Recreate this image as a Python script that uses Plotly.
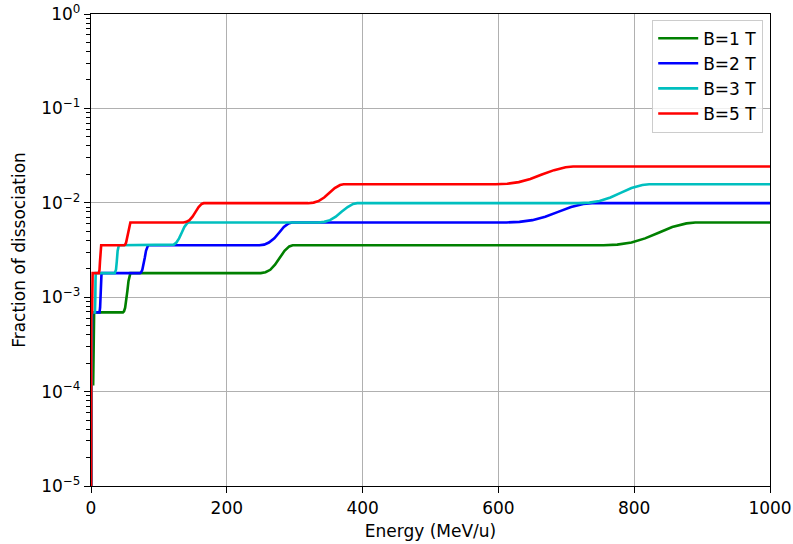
import plotly.graph_objects as go

# Energy (MeV/u) and fraction of dissociation
green_E = [0, 0.3, 3.2, 4.6,
           47, 48.65, 50.3, 51.95, 53.6, 55.25, 56.9, 58,
           250, 257, 264, 271, 278, 285, 292, 297,
           755, 775, 796, 816, 836, 856, 877, 890,
           1000]
green_F = [1e-7, 1.2e-4, 1.2e-4, 6.9e-4,
           6.90e-4, 7.10e-4, 7.74e-4, 9.20e-4, 1.169e-3, 1.486e-3, 1.73e-3, 1.80e-3,
           1.80e-3, 1.837e-3, 1.950e-3, 2.208e-3, 2.612e-3, 3.097e-3, 3.451e-3, 3.55e-3,
           3.55e-3, 3.606e-3, 3.793e-3, 4.198e-3, 4.819e-3, 5.546e-3, 6.053e-3, 6.19e-3,
           6.19e-3]

blue_E = [0, 0.3, 0.9, 1.6,
          12.5, 13.4, 14.0, 14.6, 15.5,
          72, 73.8, 75.6, 77.4, 79.2, 81, 82.8, 84,
          248, 255, 262, 270, 277, 284, 291, 296,
          612, 631, 650, 669, 688, 707, 725, 738,
          1000]
blue_F = [1e-7, 1.2e-4, 1.2e-4, 6.9e-4,
          6.9e-4, 7.74e-4, 1.033e-3, 1.486e-3, 1.80e-3,
          1.80e-3, 1.837e-3, 1.950e-3, 2.208e-3, 2.612e-3, 3.097e-3, 3.451e-3, 3.55e-3,
          3.55e-3, 3.606e-3, 3.793e-3, 4.198e-3, 4.819e-3, 5.546e-3, 6.053e-3, 6.19e-3,
          6.19e-3, 6.28e-3, 6.55e-3, 7.13e-3, 8.02e-3, 9.02e-3, 9.73e-3, 9.91e-3,
          9.91e-3]

cyan_E = [0, 0.2, 0.5, 0.8,
          5.8, 6.16, 6.4, 6.64, 7.0,
          35, 36.8, 38, 39.2, 41,
          118, 121.9, 125.8, 129.7, 133.6, 137.5, 141.4, 144,
          335, 343.5, 352, 360.5, 369, 378, 386, 392,
          718, 734, 749, 765, 780, 796, 812, 822,
          1000]
cyan_F = [1e-7, 1.2e-4, 1.2e-4, 6.9e-4,
          6.9e-4, 7.74e-4, 1.033e-3, 1.486e-3, 1.80e-3,
          1.80e-3, 1.950e-3, 2.393e-3, 3.097e-3, 3.55e-3,
          3.55e-3, 3.606e-3, 3.793e-3, 4.198e-3, 4.819e-3, 5.546e-3, 6.053e-3, 6.19e-3,
          6.19e-3, 6.28e-3, 6.55e-3, 7.13e-3, 8.02e-3, 9.02e-3, 9.73e-3, 9.91e-3,
          9.91e-3, 1.005e-2, 1.047e-2, 1.138e-2, 1.276e-2, 1.432e-2, 1.542e-2, 1.57e-2,
          1.57e-2]

red_E = [0, 0.15, 0.3, 0.5, 1.6, 2.4,
         11.5, 12.55, 13.25, 13.95, 15,
         49, 50.35, 51.7, 53.05, 54.4, 55.75, 57.1, 58,
         136, 140.5, 145, 149.5, 154, 158.5, 163, 166,
         320, 327.8, 335.6, 343.4, 351.2, 359, 366.8, 372,
         596, 613, 630, 647, 664, 682, 699, 710,
         1000]
red_F = [1e-7, 1.2e-4, 1.2e-4, 6.9e-4, 6.9e-4, 1.80e-3,
         1.80e-3, 1.950e-3, 2.393e-3, 3.097e-3, 3.55e-3,
         3.55e-3, 3.606e-3, 3.793e-3, 4.198e-3, 4.819e-3, 5.546e-3, 6.053e-3, 6.19e-3,
         6.19e-3, 6.28e-3, 6.55e-3, 7.13e-3, 8.02e-3, 9.02e-3, 9.73e-3, 9.91e-3,
         9.91e-3, 1.005e-2, 1.047e-2, 1.138e-2, 1.276e-2, 1.432e-2, 1.542e-2, 1.57e-2,
         1.57e-2, 1.592e-2, 1.656e-2, 1.786e-2, 1.991e-2, 2.218e-2, 2.377e-2, 2.42e-2,
         2.42e-2]

series_names = ["B=1 T", "B=2 T", "B=3 T", "B=5 T"]
series_colors = ["#008000", "#0000ff", "#00bfbf", "#ff0000"]

x_ticks = [0, 200, 400, 600, 800, 1000]
y_ticks = [1e-5, 1e-4, 1e-3, 1e-2, 1e-1, 1]
y_ticktext = ["10<sup>−5</sup>", "10<sup>−4</sup>", "10<sup>−3</sup>",
              "10<sup>−2</sup>", "10<sup>−1</sup>", "10<sup>0</sup>"]

FONT = "DejaVu Sans"
FS = 17

fig = go.Figure()
for E, F, name, col in zip([green_E, blue_E, cyan_E, red_E],
                           [green_F, blue_F, cyan_F, red_F],
                           series_names, series_colors):
    fig.add_trace(go.Scatter(x=E, y=F, mode="lines", name=name,
                             line=dict(color=col, width=2.6)))

minor_vals = [m * 10 ** d for d in range(-5, 0) for m in range(2, 10)]

fig.update_layout(
    width=793, height=544,
    margin=dict(l=91, r=23, t=14, b=58),
    paper_bgcolor="white", plot_bgcolor="white",
    font=dict(family=FONT, size=FS, color="black"),
    showlegend=True,
    legend=dict(x=0.99, y=0.988, xanchor="right", yanchor="top",
                bgcolor="rgba(255,255,255,0.8)", bordercolor="#cccccc",
                borderwidth=1, font=dict(size=FS), tracegroupgap=0,
                itemwidth=40),
)
fig.update_xaxes(
    range=[0, 1000], tickmode="array", tickvals=x_ticks,
    ticks="outside", ticklen=6, tickwidth=1.3, tickcolor="black",
    showline=True, linecolor="black", linewidth=1.3, mirror=True,
    showgrid=True, gridcolor="#b0b0b0", gridwidth=1.3,
    zeroline=False,
    title=dict(text="Energy (MeV/u)", standoff=8, font=dict(size=FS)),
    automargin=False,
)
fig.update_yaxes(
    type="log", range=[-5, 0], tickmode="array", tickvals=y_ticks,
    ticktext=y_ticktext,
    ticks="outside", ticklen=6, tickwidth=1.3, tickcolor="black",
    showline=True, linecolor="black", linewidth=1.3, mirror=True,
    showgrid=True, gridcolor="#b0b0b0", gridwidth=1.3,
    zeroline=False,
    minor=dict(tickmode="array", tickvals=minor_vals, ticks="outside",
               ticklen=3.5, tickwidth=1, tickcolor="black", showgrid=False),
    title=dict(text="Fraction of dissociation", standoff=11, font=dict(size=FS)),
    automargin=False,
)

# remove the page's default body margin so the figure fills the window exactly
fig.write_html("out.html",
               config={"displayModeBar": False},
               post_script="document.body.style.margin='0';document.body.style.overflow='hidden';")
